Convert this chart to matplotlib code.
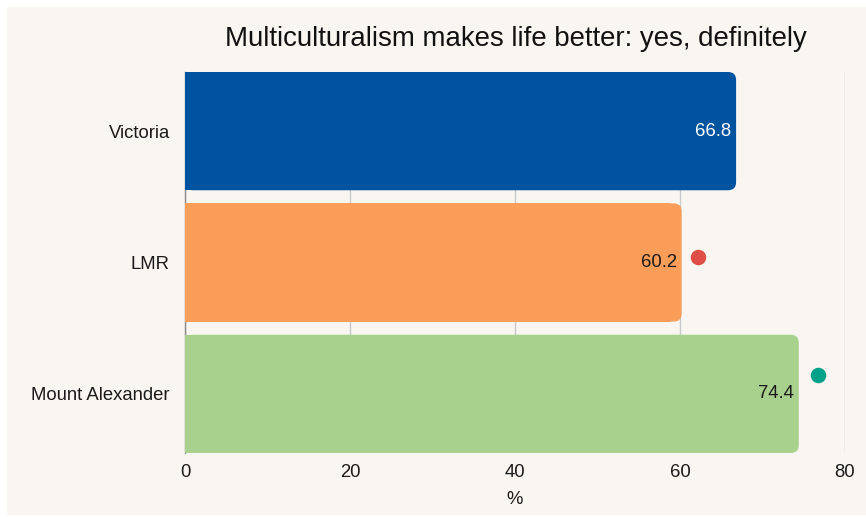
import matplotlib
matplotlib.use("Agg")
import matplotlib.pyplot as plt
from matplotlib.patches import FancyBboxPatch, Rectangle

plt.rcParams['font.family'] = ['Liberation Sans', 'DejaVu Sans']

title = "Multiculturalism makes life better: yes, definitely"
categories = ["Victoria", "LMR", "Mount Alexander"]
values = [66.8, 60.2, 74.4]
bar_colors = ["#00539f", "#f99d59", "#a8d18e"]
label_colors = ["white", "#1a1a1a", "#1a1a1a"]
dot_values = [None, 62.2, 76.7]
dot_y_offset = [0.0, -0.04, -0.145]
dot_colors = [None, "#df4f48", "#00a189"]
xticks = [0, 20, 40, 60, 80]
xlabel = "%"

W, H = 866, 517
fig = plt.figure(figsize=(W / 100, H / 100), dpi=100, facecolor="white")
bg = "#f9f6f1"
fig.patches.append(Rectangle((7 / W, 2 / H), 1 - 7 / W, 1 - 9 / H,
                             transform=fig.transFigure, facecolor=bg,
                             edgecolor="none", zorder=-10))

ax = fig.add_axes([185 / W, (H - 453) / H, 660 / W, 381 / H])
ax.set_facecolor(bg)
ax.patch.set_alpha(0)

ypos = list(range(len(categories)))
bars = ax.barh(ypos, values, height=0.9, color=bar_colors, zorder=2)
ax.set_xlim(0, 80)
ax.set_ylim(2.45, -0.45)

# rounded right corners
xunit_per_px = 80 / 660
yunit_per_px = 2.9 / 381
r_px = 8
r_x = r_px * xunit_per_px
aspect = yunit_per_px / xunit_per_px
for b in bars:
    x0, y0 = b.get_x(), b.get_y()
    w, h = b.get_width(), b.get_height()
    fc = b.get_facecolor()
    b.set_width(w - r_x * 1.5)
    fb = FancyBboxPatch((x0, y0), w, h,
                        boxstyle=f"round,pad=0,rounding_size={r_x}",
                        mutation_aspect=aspect, facecolor=fc,
                        edgecolor="none", zorder=2)
    ax.add_patch(fb)

fs = 13.3
for i, (v, c) in enumerate(zip(values, label_colors)):
    ax.text(v - 5 * xunit_per_px, i, f"{v}", ha="right", va="center",
            color=c, fontsize=fs, zorder=4)

for i, (dv, dc) in enumerate(zip(dot_values, dot_colors)):
    if dv is not None:
        ax.scatter([dv], [i + dot_y_offset[i]], s=125, color=dc,
                   zorder=5, linewidths=0)

ax.set_xticks(xticks)
ax.set_xticklabels([str(t) for t in xticks], fontsize=fs, color="#1a1a1a")
ax.set_yticks(ypos)
ax.set_yticklabels(categories, fontsize=fs, color="#1a1a1a")
ax.tick_params(axis="both", length=0)
ax.tick_params(axis="y", pad=11)
ax.tick_params(axis="x", pad=8)
ax.set_xlabel(xlabel, fontsize=fs, color="#1a1a1a", labelpad=7)

ax.grid(axis="x", color="#c9c9c9", linewidth=1, zorder=0)
ax.set_axisbelow(True)
for s in ["top", "right", "bottom"]:
    ax.spines[s].set_visible(False)
ax.spines["left"].set_color("#8a8a8a")
ax.spines["left"].set_linewidth(1)
ax.spines["left"].set_zorder(1)

fig.text(516 / W, 1 - 39 / H, title, ha="center", va="center",
         fontsize=19.9, color="#111111")

fig.savefig("out.png", dpi=100, facecolor="white")
